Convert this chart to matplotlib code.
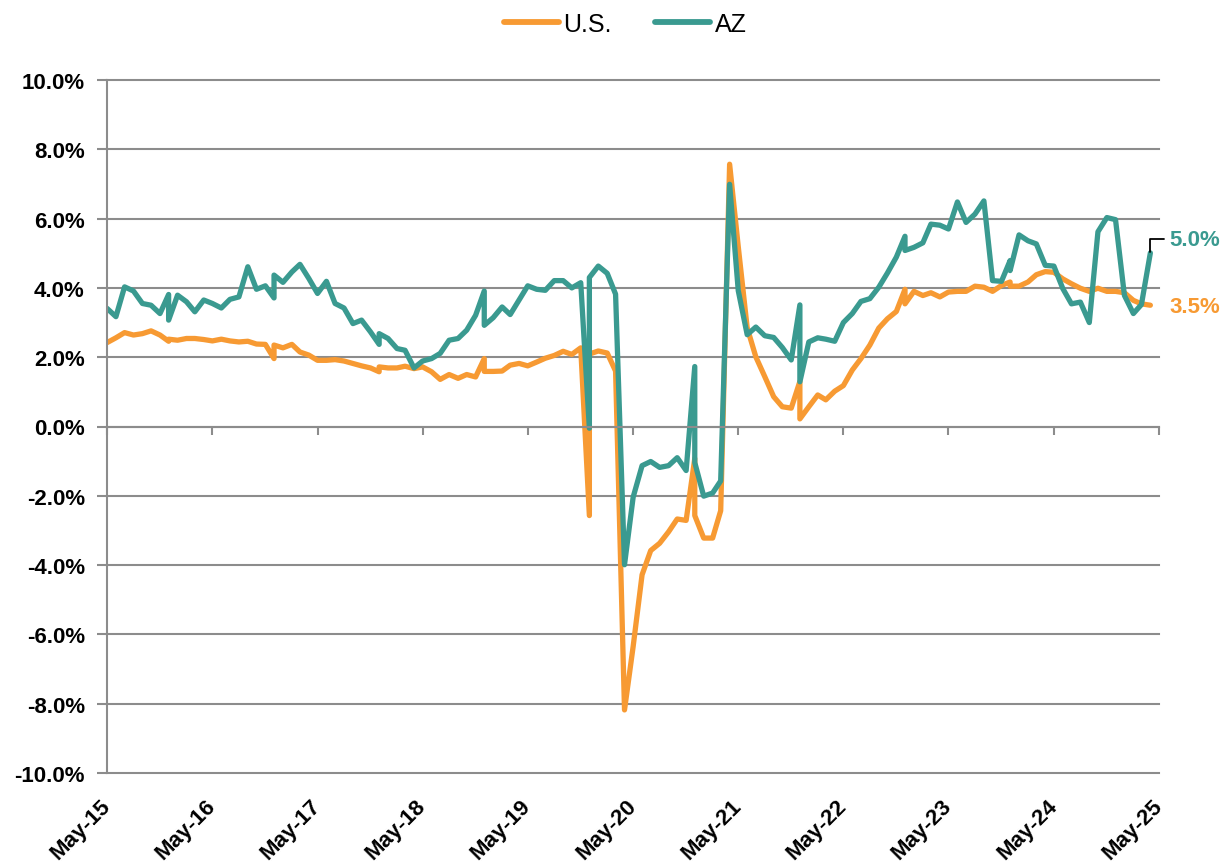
import numpy as np
import pandas as pd
import matplotlib
matplotlib.use("Agg")
import matplotlib.pyplot as plt
import matplotlib.dates as mdates

plt.rcParams['font.family'] = ['Liberation Sans', 'DejaVu Sans']

# monthly y/y growth, May-2015 .. Apr-2025 (value shown before the December restatement)
months = pd.date_range('2015-05-01', periods=120, freq='MS')

us = [2.42, 2.56, 2.71, 2.64, 2.68, 2.76, 2.64, 2.46,          # May-15 .. Dec-15
      2.49, 2.54, 2.54, 2.51, 2.47, 2.52, 2.47, 2.44, 2.46, 2.38, 2.37, 1.96,
      2.27, 2.37, 2.15, 2.06, 1.91, 1.91, 1.93, 1.89, 1.82, 1.75, 1.69, 1.58,
      1.69, 1.69, 1.74, 1.67, 1.72, 1.58, 1.36, 1.50, 1.39, 1.50, 1.43, 1.96,
      1.59, 1.60, 1.77, 1.82, 1.75, 1.86, 1.97, 2.05, 2.17, 2.08, 2.27, -2.57,
      2.18, 2.12, 1.60, -8.18, -6.35, -4.28, -3.58, -3.37, -3.04, -2.67, -2.71, -0.92,
      -3.22, -3.22, -2.43, 7.57, 5.19, 2.85, 2.01, 1.44, 0.86, 0.57, 0.53, 1.30,
      0.57, 0.91, 0.77, 1.02, 1.18, 1.63, 1.96, 2.35, 2.84, 3.11, 3.32, 3.96,
      3.90, 3.78, 3.86, 3.74, 3.88, 3.90, 3.90, 4.05, 4.02, 3.90, 4.07, 4.17,
      4.05, 4.17, 4.38, 4.47, 4.45, 4.26, 4.12, 3.99, 3.90, 3.99, 3.90, 3.90,
      3.86, 3.64, 3.54, 3.50]

az = [3.41, 3.17, 4.03, 3.91, 3.55, 3.50, 3.26, 3.81,
      3.79, 3.60, 3.31, 3.65, 3.55, 3.42, 3.67, 3.74, 4.61, 3.96, 4.06, 3.71,
      4.16, 4.46, 4.68, 4.27, 3.84, 4.19, 3.55, 3.42, 2.97, 3.07, 2.73, 2.37,
      2.54, 2.25, 2.20, 1.69, 1.89, 1.96, 2.11, 2.49, 2.54, 2.78, 3.21, 3.91,
      3.14, 3.45, 3.23, 3.65, 4.06, 3.96, 3.93, 4.21, 4.21, 4.00, 4.15, -0.05,
      4.63, 4.42, 3.82, -3.99, -2.04, -1.13, -1.01, -1.18, -1.13, -0.90, -1.27, 1.73,
      -2.01, -1.92, -1.57, 6.99, 3.92, 2.65, 2.87, 2.62, 2.57, 2.28, 1.92, 3.51,
      2.44, 2.56, 2.52, 2.46, 3.00, 3.26, 3.61, 3.69, 4.02, 4.43, 4.89, 5.49,
      5.17, 5.30, 5.84, 5.81, 5.70, 6.48, 5.89, 6.13, 6.51, 4.21, 4.19, 4.79,
      5.53, 5.36, 5.27, 4.65, 4.63, 3.98, 3.54, 3.59, 3.00, 5.62, 6.03, 5.97,
      3.78, 3.26, 3.52, 5.01]

# restated December values (second point on the same date)
dec_years = [2015, 2016, 2017, 2018, 2019, 2020, 2021, 2022, 2023]
us_dec_new = [2.52, 2.35, 1.72, 1.59, 2.09, -2.57, 0.22, 3.54, 4.05]
az_dec_new = [3.07, 4.37, 2.68, 2.92, 4.30, -1.04, 1.29, 5.08, 4.50]

tick_dates = pd.date_range('2015-05-01', '2025-05-01', freq='12MS')

ORANGE = '#F79A33'
TEAL = '#3A9A90'
GRID = '#8C8C8C'


def build(vals, dec_new):
    xs, ys = [], []
    for d, v in zip(months, vals):
        xs.append(d)
        ys.append(v)
        if d.month == 12 and d.year in dec_years:
            xs.append(d)
            ys.append(dec_new[dec_years.index(d.year)])
    return xs, ys


fig = plt.figure(figsize=(12.27, 8.62), dpi=100)
ax = fig.add_axes([107 / 1227, 1 - 774 / 862, (1159 - 107) / 1227, (774 - 81) / 862])

x_us, y_us = build(us, us_dec_new)
x_az, y_az = build(az, az_dec_new)
ax.plot(x_us, y_us, color=ORANGE, lw=3.8, label='U.S.', solid_joinstyle='round',
        solid_capstyle='round')
ax.plot(x_az, y_az, color=TEAL, lw=3.8, label='AZ', solid_joinstyle='round',
        solid_capstyle='round')

ax.set_xlim(tick_dates[0], tick_dates[-1])
ax.set_ylim(-10, 10)
ax.set_yticks(np.arange(-10, 10.1, 2))
ax.set_yticklabels([f'{v:.1f}%' for v in np.arange(-10, 10.1, 2)],
                   fontsize=16, fontweight='bold')
ax.grid(axis='y', color=GRID, lw=1.5)
for gl in ax.get_ygridlines():
    gl.set_clip_on(False)
ax.set_axisbelow(True)

for s in ['top', 'right']:
    ax.spines[s].set_visible(False)
ax.spines['left'].set_color(GRID)
ax.spines['left'].set_linewidth(1.5)
ax.spines['bottom'].set_position(('data', 0))
ax.spines['bottom'].set_color(GRID)
ax.spines['bottom'].set_linewidth(1.5)
ax.tick_params(axis='y', length=7, width=1.5, color=GRID, pad=9)

ax.set_xticks(tick_dates)
ax.tick_params(axis='x', length=6, width=1.5, color=GRID, labelbottom=False)

sec = ax.secondary_xaxis('bottom')
sec.set_xticks(tick_dates)
sec.xaxis.set_major_formatter(mdates.DateFormatter('%b-%y'))
sec.tick_params(length=0, pad=21)
sec.spines['bottom'].set_visible(False)
for lab in sec.get_xticklabels():
    lab.set_rotation(45)
    lab.set_ha('right')
    lab.set_va('center')
    lab.set_rotation_mode('anchor')
    lab.set_fontsize(16)
    lab.set_fontweight('bold')

# end labels
ax.annotate(f'{az[-1]:.1f}%', xy=(months[-1], az[-1]), xytext=(14, 10),
            textcoords='offset points', color=TEAL, fontsize=16, fontweight='bold',
            va='center', ha='left',
            arrowprops=dict(arrowstyle='-', color='black', lw=1.3, shrinkA=2, shrinkB=1,
                            connectionstyle='angle,angleA=180,angleB=90,rad=0'))
ax.annotate(f'{us[-1]:.1f}%', xy=(months[-1], us[-1]), xytext=(14, -1),
            textcoords='offset points', color=ORANGE, fontsize=16, fontweight='bold',
            va='center', ha='left')

leg = fig.legend(loc='center', bbox_to_anchor=(625 / 1227, 1 - 25 / 862), ncol=2,
                 frameon=False, fontsize=18, handlelength=2.2, handletextpad=0.2,
                 columnspacing=1.7)
for h in leg.get_lines():
    h.set_linewidth(4.2)
    h.set_solid_capstyle('round')

fig.savefig('out.png', dpi=100)
